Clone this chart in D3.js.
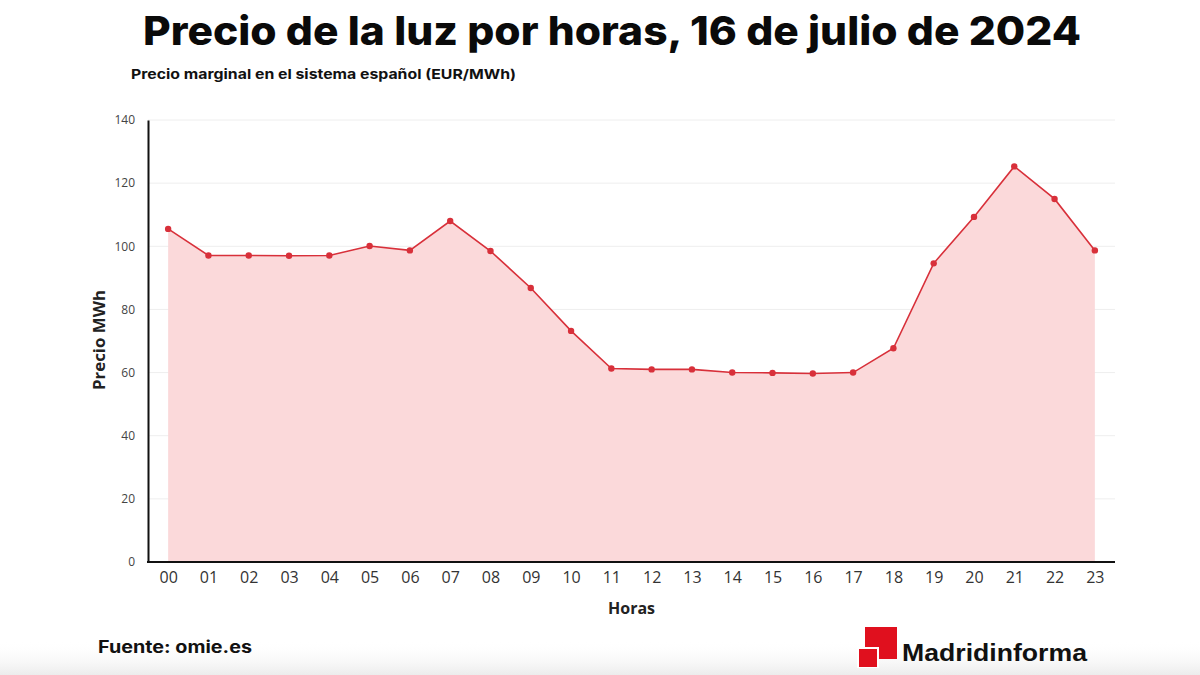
<!DOCTYPE html>
<html><head><meta charset="utf-8">
<script src="https://cdn.jsdelivr.net/npm/d3@7"></script>
<style>body{margin:0;background:#fff;}svg{display:block;}</style>
</head><body>
<svg id="c" width="1200" height="675"></svg>
<script>
const hours = ["00","01","02","03","04","05","06","07","08","09","10","11","12","13","14","15","16","17","18","19","20","21","22","23"];
const prices = [105.5,97.1,97.1,97.0,97.1,100.1,98.7,108.0,98.5,86.8,73.2,61.3,61.0,61.0,60.0,59.9,59.7,60.0,67.7,94.6,109.3,125.3,115.0,98.7];
const yTicks = [0,20,40,60,80,100,120,140];

const svg = d3.select("#c");
const L = 148, R = 1115, T = 120, B = 562;
const x = d3.scalePoint().domain(hours).range([L, R]).padding(0.5);
const y = d3.scaleLinear().domain([0,140]).range([B, T]);

// grid
svg.append("g").selectAll("line").data(yTicks.filter(d=>d>0)).join("line")
  .attr("x1", L).attr("x2", R).attr("y1", d=>y(d)).attr("y2", d=>y(d))
  .attr("stroke", "#eeeeee").attr("stroke-width", 1);

// area
const data = hours.map((h,i)=>({h, v: prices[i]}));
svg.append("path").datum(data)
  .attr("d", d3.area().x(d=>x(d.h)).y0(y(0)).y1(d=>y(d.v)))
  .attr("fill", "#fbd9da");
svg.append("path").datum(data)
  .attr("d", d3.line().x(d=>x(d.h)).y(d=>y(d.v)))
  .attr("fill", "none").attr("stroke", "#d8303a").attr("stroke-width", 1.6);
svg.append("g").selectAll("circle").data(data).join("circle")
  .attr("cx", d=>x(d.h)).attr("cy", d=>y(d.v)).attr("r", 3.2).attr("fill", "#d8303a");

// y axis
const yAx = svg.append("g").attr("transform", `translate(${L},0)`)
  .call(d3.axisLeft(y).tickValues(yTicks).tickSize(0).tickPadding(13));
yAx.select(".domain").attr("stroke", "#111").attr("stroke-width", 2);
yAx.selectAll("text").attr("font-family", "'Open Sans', sans-serif").attr("font-size", 12).attr("fill", "#444");

// x axis
const xAx = svg.append("g").attr("transform", `translate(0,${B})`)
  .call(d3.axisBottom(x).tickSize(0).tickPadding(10));
xAx.select(".domain").attr("stroke", "#111").attr("stroke-width", 2).attr("d", `M${L-1},0H${R}`);
xAx.selectAll("text").attr("font-family", "'Open Sans', sans-serif").attr("font-size", 16).attr("fill", "#333");

// axis titles
svg.append("text").attr("x", (L+R)/2).attr("y", 614).attr("text-anchor", "middle")
  .attr("font-family", "'Open Sans', sans-serif").attr("font-weight", 700).attr("font-size", 16).attr("fill", "#222").text("Horas");
svg.append("text").attr("transform", "translate(105,340) rotate(-90)").attr("text-anchor", "middle")
  .attr("font-family", "'Open Sans', sans-serif").attr("font-weight", 700).attr("font-size", 16.5).attr("fill", "#222")
  .attr("textLength", 100).attr("lengthAdjust", "spacingAndGlyphs").text("Precio MWh");

// title
svg.append("text").attr("x", 612).attr("y", 45).attr("text-anchor", "middle")
  .attr("font-family", "Inter, sans-serif").attr("font-weight", 800).attr("font-size", 40).attr("fill", "#0a0a0a")
  .attr("textLength", 938).attr("lengthAdjust", "spacingAndGlyphs")
  .text("Precio de la luz por horas, 16 de julio de 2024");
svg.append("text").attr("x", 131).attr("y", 79)
  .attr("font-family", "Inter, sans-serif").attr("font-weight", 700).attr("font-size", 13.5).attr("fill", "#111")
  .attr("textLength", 385).attr("lengthAdjust", "spacingAndGlyphs")
  .text("Precio marginal en el sistema español (EUR/MWh)");

// footer shadow
const defs = svg.append("defs");
const g = defs.append("linearGradient").attr("id","sh").attr("x1",0).attr("y1",0).attr("x2",0).attr("y2",1);
g.append("stop").attr("offset","0").attr("stop-color","#fff").attr("stop-opacity",0);
g.append("stop").attr("offset","1").attr("stop-color","#ececec").attr("stop-opacity",1);
svg.append("rect").attr("x",0).attr("y",640).attr("width",1200).attr("height",35).attr("fill","url(#sh)");

// source
svg.append("text").attr("x", 98).attr("y", 653)
  .attr("font-family", "Inter, sans-serif").attr("font-weight", 700).attr("font-size", 17).attr("fill", "#111")
  .attr("textLength", 154).attr("lengthAdjust", "spacingAndGlyphs").text("Fuente: omie.es");

// logo
svg.append("rect").attr("x", 865).attr("y", 627).attr("width", 32).attr("height", 32).attr("fill", "#e0101e");
svg.append("rect").attr("x", 857).attr("y", 647).attr("width", 22).attr("height", 21).attr("fill", "#fff");
svg.append("rect").attr("x", 859).attr("y", 649).attr("width", 18).attr("height", 18).attr("fill", "#e0101e");
svg.append("text").attr("x", 902).attr("y", 661)
  .attr("font-family", "'Liberation Sans', Arial, sans-serif").attr("font-weight", 700).attr("font-size", 24).attr("fill", "#111")
  .attr("textLength", 185).attr("lengthAdjust", "spacingAndGlyphs").text("Madridinforma");
</script>
</body></html>
